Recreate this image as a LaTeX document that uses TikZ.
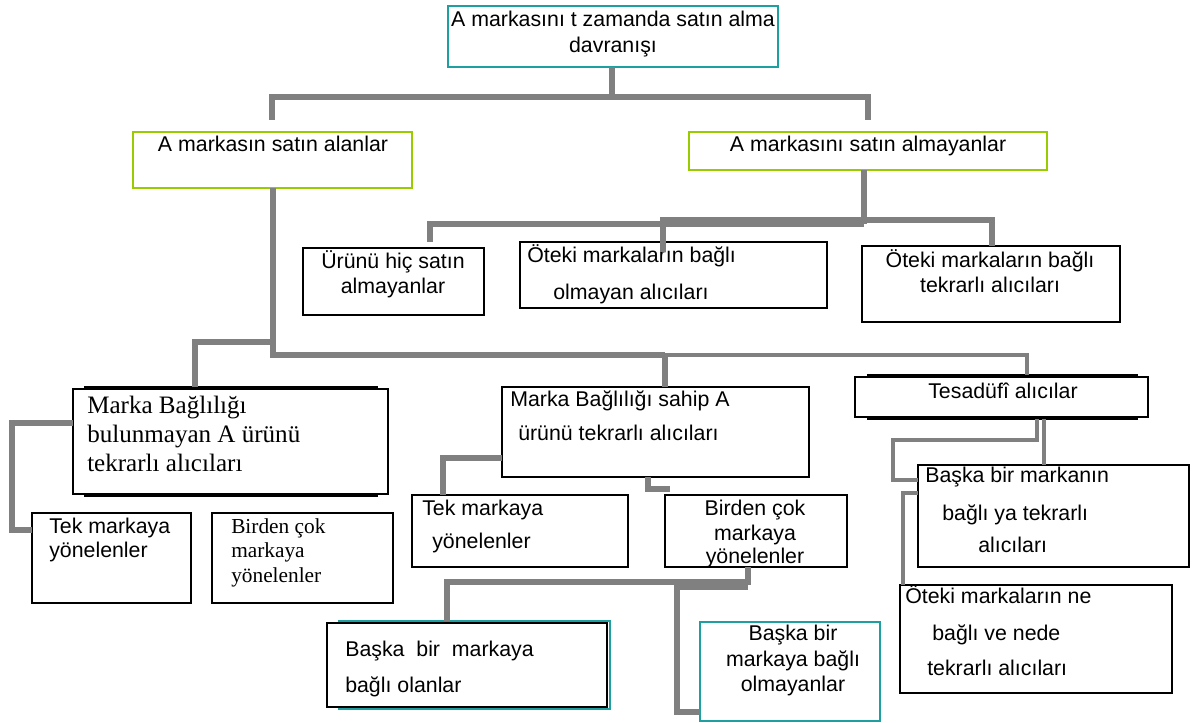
\documentclass[tikz,border=0pt]{standalone}
\usepackage{fontspec}
\setmainfont{Liberation Serif}
\setsansfont{Liberation Sans}
\definecolor{linegray}{RGB}{128,128,128}
\definecolor{tealline}{RGB}{30,160,160}
\definecolor{greenline}{RGB}{153,204,0}

\tikzset{
  frame/.style={draw=black, line width=1.1pt, fill=white, inner sep=0pt, outer sep=0pt},
  tealframe/.style={frame, draw=tealline},
  greenframe/.style={frame, draw=greenline, line width=1.4pt},
  conn/.style={draw=linegray, line width=3.9pt},
  connthin/.style={draw=linegray, line width=3.2pt},
  lab/.style={inner sep=0pt, yshift=-2pt, font=\sffamily\fontsize{16}{19}\selectfont},
  serifbig/.style={inner sep=0pt, yshift=-2pt, font=\rmfamily\fontsize{18.8}{22}\selectfont},
  serifsmall/.style={inner sep=0pt, yshift=-2pt, font=\rmfamily\fontsize{16}{19}\selectfont},
}
% frame node given by its corners: style, name, x1, y1, x2, y2
\newcommand\mkframe[6]{%
  \node[#1, anchor=north west, minimum width={(#5-#3)*0.75pt},
        minimum height={(#6-#4)*0.75pt}] (#2) at (#3,#4) {};}

\begin{document}
\begin{tikzpicture}[x=0.75pt,y=-0.75pt]
\useasboundingbox (0,0) rectangle (1195,723);

% ---- frames ----
\mkframe{tealframe}{B0}{448}{6}{778}{67}
\mkframe{greenframe}{B1}{133}{132}{412}{188}
\mkframe{greenframe}{B2}{689}{132}{1047}{170}
\mkframe{frame}{B3}{303}{248}{484}{315}
\mkframe{frame}{B4}{520}{242}{827}{308}
\mkframe{frame}{B5}{862}{246}{1120}{322}
\mkframe{frame}{B6s}{85}{387}{377}{496}
\mkframe{frame}{B6}{73}{389}{388}{494}
\mkframe{frame}{B7}{32}{513}{191}{603}
\mkframe{frame}{B8}{212}{513}{393}{603}
\mkframe{frame}{B9}{502}{387}{809}{477}
\mkframe{frame}{B10}{412}{495}{628}{567}
\mkframe{frame}{B11}{665}{495}{847}{567}
\mkframe{tealframe}{B12s}{339}{621}{610}{709}
\mkframe{frame}{B12}{327}{623}{607}{707}
\mkframe{tealframe}{B13}{700}{622}{880}{721}
\mkframe{frame}{B14s}{868}{375}{1137}{419}
\mkframe{frame}{B14}{855}{377}{1148}{417}
\mkframe{frame}{B15}{918}{465}{1189}{567}
\mkframe{frame}{B16}{900}{585}{1172}{693}

% ---- labels ----
\node[lab, anchor=mid] (t0a) at (613,21) {A markasını t zamanda satın alma};
\node[lab, anchor=mid] (t0b) at (613,47) {davranışı};
\node[lab, anchor=mid] (t1) at (273,146) {A markasın satın alanlar};
\node[lab, anchor=mid] (t2) at (868,146) {A markasını satın almayanlar};
\node[lab, anchor=mid] (t3a) at (393,263) {Ürünü hiç satın};
\node[lab, anchor=mid] (t3b) at (393,288) {almayanlar};
\node[lab, anchor=mid west] (t4a) at (527,257) {Öteki markaların bağlı};
\node[lab, anchor=mid west] (t4b) at (553,294) {olmayan alıcıları};
\node[lab, anchor=mid] (t5a) at (990,262) {Öteki markaların bağlı};
\node[lab, anchor=mid] (t5b) at (990,287) {tekrarlı alıcıları};
\node[serifbig, anchor=mid west] (t6a) at (87,408) {Marka Bağlılığı};
\node[serifbig, anchor=mid west] (t6b) at (87,437) {bulunmayan A ürünü};
\node[serifbig, anchor=mid west] (t6c) at (87,466) {tekrarlı alıcıları};
\node[lab, anchor=mid west] (t7a) at (49,528) {Tek markaya};
\node[lab, anchor=mid west] (t7b) at (49,552) {yönelenler};
\node[serifsmall, anchor=mid west] (t8a) at (231,528) {Birden çok};
\node[serifsmall, anchor=mid west] (t8b) at (231,552) {markaya};
\node[serifsmall, anchor=mid west] (t8c) at (231,577) {yönelenler};
\node[lab, anchor=mid west] (t9a) at (510,401) {Marka Bağlılığı sahip A};
\node[lab, anchor=mid west] (t9b) at (518,435) {ürünü tekrarlı alıcıları};
\node[lab, anchor=mid west] (t10a) at (422,510) {Tek markaya};
\node[lab, anchor=mid west] (t10b) at (432,543) {yönelenler};
\node[lab, anchor=mid] (t11a) at (755,510) {Birden çok};
\node[lab, anchor=mid] (t11b) at (755,535) {markaya};
\node[lab, anchor=mid] (t11c) at (755,558) {yönelenler};
\node[lab, anchor=mid west] (t12a) at (345,651) {Başka\ \ bir\ \ markaya};
\node[lab, anchor=mid west] (t12b) at (345,687) {bağlı olanlar};
\node[lab, anchor=mid] (t13a) at (793,635) {Başka bir};
\node[lab, anchor=mid] (t13b) at (793,661) {markaya bağlı};
\node[lab, anchor=mid] (t13c) at (793,686) {olmayanlar};
\node[lab, anchor=mid] (t14) at (1003,393) {Tesadüfî alıcılar};
\node[lab, anchor=mid west] (t15a) at (925,477) {Başka bir markanın};
\node[lab, anchor=mid west] (t15b) at (942,515) {bağlı ya tekrarlı};
\node[lab, anchor=mid west] (t15c) at (978,547) {alıcıları};
\node[lab, anchor=mid west] (t16a) at (905,598) {Öteki markaların ne};
\node[lab, anchor=mid west] (t16b) at (932,635) {bağlı ve nede};
\node[lab, anchor=mid west] (t16c) at (927,670) {tekrarlı alıcıları};

% ---- connectors ----
% top level split
\coordinate (j0) at (612,97);
\coordinate (a1) at (272,120);
\coordinate (a2) at (868,120);
\draw[conn] (B0.south -| j0) -- (j0);
\draw[conn] (a1) |- (j0) -| (a2);

% non-buyers split
\coordinate (k0) at (864,224);
\coordinate (k1) at (430,242);
\coordinate (k2) at (663,252);
\coordinate (k4) at (992,220);
\draw[conn] (B2.south -| k0) -- (k0);
\draw[conn] (k1) |- (k0);
\draw[conn] (k2) |- (k4) -- (B5.north -| k4);

% buyers trunk
\coordinate (m0) at (273,355);
\coordinate (m1) at (1027,355);
\coordinate (m2) at (665,355);
\coordinate (m3) at (195,342);
\coordinate (m4) at (273,342);
\draw[conn] (B1.south -| m0) -- (m0) -- (m2);
\draw[connthin] (m2) -| (B14s.north -| m1);
\draw[conn] (m2) -- (B9.north -| m2);
\draw[conn] (B6s.north -| m3) |- (m4);

% brand-loyal-free repeat buyers
\coordinate (n0) at (12,423);
\coordinate (n1) at (12,530);
\draw[conn] (n0 -| B6.west) -- (n0) -- (n1) -- (n1 -| B7.west);

% brand-loyal repeat buyers
\coordinate (p0) at (443,458);
\coordinate (p1) at (648,489);
\coordinate (p2) at (670,489);
\draw[conn] (p0 -| B9.west) -| (B10.north -| p0);
\draw[conn] (B9.south -| p1) |- (p2);

% multi-brand branch
\coordinate (q0) at (748,582);
\coordinate (q1) at (447,582);
\coordinate (q2) at (677,587);
\coordinate (q3) at (677,712);
\draw[conn] (B11.south -| q0) -- (q0) -- (q1) -- (B12s.north -| q1);
\draw[conn] (q2) -- (q2 -| q0);
\draw[conn] (q2 |- q0) -- (q3) -- (q3 -| B13.west);

% random buyers
\coordinate (r0) at (1037,440);
\coordinate (r1) at (893,480);
\coordinate (r2) at (1044,440);
\coordinate (r3) at (903,493);
\draw[connthin] (B14s.south -| r0) -- (r0) -| (r1) -- (r1 -| B15.west);
\draw[connthin] (B14s.south -| r2) -- (r2 |- B15.north);
\draw[connthin] (r3 -| B15.west) -- (r3) -- (r3 |- B16.north);
\end{tikzpicture}
\end{document}
